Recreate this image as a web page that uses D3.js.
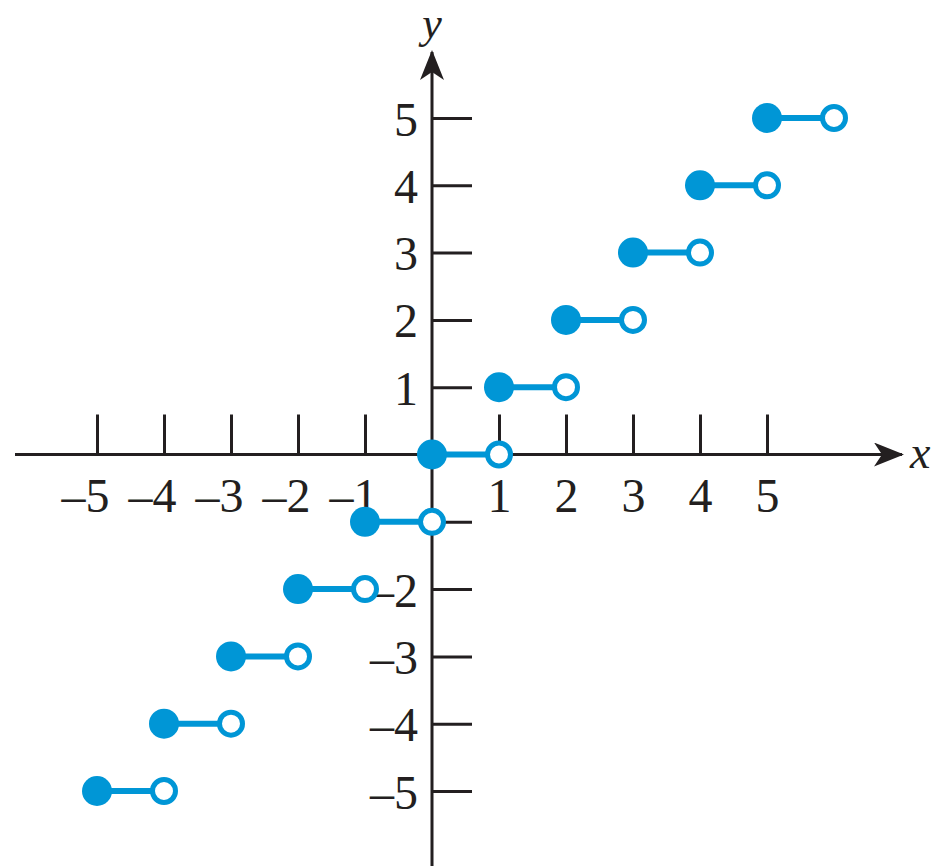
<!DOCTYPE html>
<html>
<head>
<meta charset="utf-8">
<script src="https://cdn.jsdelivr.net/npm/d3@7"></script>
<style>
  body { margin: 0; background: #fff; }
  svg { display: block; }
  text { font-family: "Liberation Serif", "DejaVu Serif", serif; fill: #231f20; }
</style>
</head>
<body>
<svg width="936" height="866"></svg>
<script>
// step values of y = floor(x): closed dot at (n, n), open dot at (n+1, n)
var stepStart = [-5, -4, -3, -2, -1, 0, 1, 2, 3, 4, 5];
var stepValue = [-5, -4, -3, -2, -1, 0, 1, 2, 3, 4, 5];
var xTicks = [-5, -4, -3, -2, -1, 1, 2, 3, 4, 5];
var xLabels = ["\u20135", "\u20134", "\u20133", "\u20132", "\u20131", "1", "2", "3", "4", "5"];
var yTicks = [-5, -4, -3, -2, -1, 1, 2, 3, 4, 5];
// the -1 label on the y axis is hidden under the step in the original
var yLabels = ["\u20135", "\u20134", "\u20133", "\u20132", "", "1", "2", "3", "4", "5"];

var svg = d3.select("svg");
var ink = "#231f20";
var blue = "#0096d6";

var x = d3.scaleLinear().domain([-5, 5]).range([97, 767]);
var y = d3.scaleLinear().domain([-5, 5]).range([791, 118]);

var x0 = x(0), y0 = y(0);

// arrowhead
var defs = svg.append("defs");
defs.append("marker")
  .attr("id", "arr")
  .attr("viewBox", "0 0 30 24")
  .attr("refX", 28).attr("refY", 12)
  .attr("markerWidth", 30).attr("markerHeight", 24)
  .attr("markerUnits", "userSpaceOnUse")
  .attr("orient", "auto")
  .append("path")
  .attr("d", "M0,0 L30,12 L0,24 L8,12 Z")
  .attr("fill", ink);

// axis lines
svg.append("line")
  .attr("x1", 15).attr("x2", 902).attr("y1", y0).attr("y2", y0)
  .attr("stroke", ink).attr("stroke-width", 3)
  .attr("marker-end", "url(#arr)");
svg.append("line")
  .attr("x1", x0).attr("x2", x0).attr("y1", 866).attr("y2", 52)
  .attr("stroke", ink).attr("stroke-width", 3)
  .attr("marker-end", "url(#arr)");

// ticks via d3 axes
var xa = svg.append("g")
  .attr("transform", "translate(0," + y0 + ")")
  .call(d3.axisTop(x).tickValues(xTicks).tickSize(40).tickSizeOuter(0)
    .tickFormat(function (d, i) { return xLabels[i]; }));
xa.select(".domain").remove();
xa.selectAll("line").attr("stroke", ink).attr("stroke-width", 3);
xa.selectAll("text")
  .attr("y", 57).attr("dy", null)
  .attr("font-size", 48)
  .attr("font-family", "Liberation Serif, serif")
  .attr("fill", ink)
  .attr("text-anchor", function (d) { return d < 0 ? "end" : "middle"; })
  .attr("x", function (d) { return d < 0 ? 12 : 0; });

var ya = svg.append("g")
  .attr("transform", "translate(" + x0 + ",0)")
  .call(d3.axisRight(y).tickValues(yTicks).tickSize(40).tickSizeOuter(0)
    .tickFormat(function (d, i) { return yLabels[i]; }));
ya.select(".domain").remove();
ya.selectAll("line").attr("stroke", ink).attr("stroke-width", 3);
ya.selectAll("text")
  .attr("x", -14).attr("dy", null).attr("y", 17)
  .attr("font-size", 48)
  .attr("font-family", "Liberation Serif, serif")
  .attr("fill", ink)
  .attr("text-anchor", "end");

// axis names
svg.append("text").attr("x", x0).attr("y", 38)
  .attr("text-anchor", "middle").attr("font-size", 44)
  .attr("font-style", "italic").text("y");
svg.append("text").attr("x", 910).attr("y", 468)
  .attr("text-anchor", "start").attr("font-size", 46)
  .attr("font-style", "italic").text("x");

// steps
var steps = stepStart.map(function (s, i) { return { a: s, b: s + 1, v: stepValue[i] }; });

svg.selectAll(".seg").data(steps).enter().append("line")
  .attr("class", "seg")
  .attr("x1", function (d) { return x(d.a); })
  .attr("x2", function (d) { return x(d.b); })
  .attr("y1", function (d) { return y(d.v); })
  .attr("y2", function (d) { return y(d.v); })
  .attr("stroke", blue).attr("stroke-width", 6);

svg.selectAll(".closed").data(steps).enter().append("circle")
  .attr("class", "closed")
  .attr("cx", function (d) { return x(d.a); })
  .attr("cy", function (d) { return y(d.v); })
  .attr("r", 15)
  .attr("fill", blue);

svg.selectAll(".open").data(steps).enter().append("circle")
  .attr("class", "open")
  .attr("cx", function (d) { return x(d.b); })
  .attr("cy", function (d) { return y(d.v); })
  .attr("r", 11.5)
  .attr("fill", "#fff")
  .attr("stroke", blue).attr("stroke-width", 5);
</script>
</body>
</html>
